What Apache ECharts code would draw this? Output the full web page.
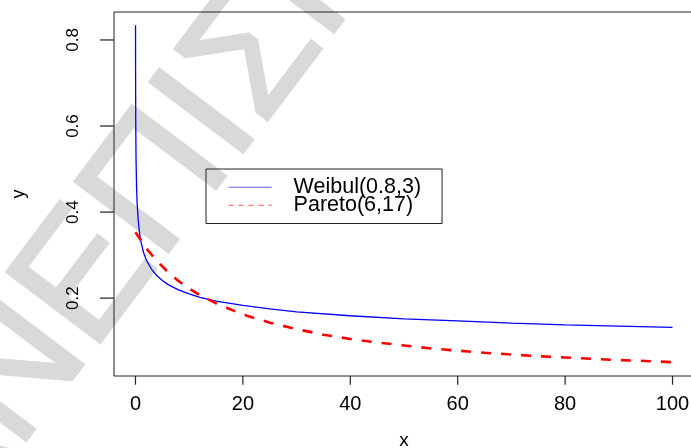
<!DOCTYPE html>
<html>
<head>
<meta charset="utf-8">
<script src="https://cdn.jsdelivr.net/npm/echarts@6/dist/echarts.min.js"></script>
<style>
  html, body { margin: 0; padding: 0; background: #ffffff; }
  #chart { width: 691px; height: 448px; }
</style>
</head>
<body>
<div id="chart"></div>
<script>
// Hazard curves: Weibull(0.8, 3) and Pareto(6, 17)
const weibullX = [0.01, 0.02, 0.05, 0.1, 0.2, 0.3, 0.5, 0.75, 1, 1.5, 2, 3, 4, 5, 6, 8, 10, 12, 15, 20, 25, 30, 40, 50, 60, 70, 80, 90, 100];
const weibullY = [0.834, 0.726, 0.605, 0.527, 0.458, 0.423, 0.382, 0.352, 0.332, 0.306, 0.289, 0.267, 0.252, 0.241, 0.232, 0.219, 0.210, 0.202, 0.193, 0.183, 0.175, 0.168, 0.159, 0.152, 0.147, 0.142, 0.138, 0.135, 0.132];

const paretoX = [0, 2, 4, 6, 8, 10, 12, 15, 20, 25, 30, 35, 40, 45, 50, 55, 60, 65, 70, 75, 80, 85, 90, 95, 100];
const paretoY = [0.353, 0.316, 0.286, 0.261, 0.240, 0.222, 0.207, 0.188, 0.162, 0.143, 0.128, 0.115, 0.105, 0.097, 0.090, 0.083, 0.078, 0.073, 0.069, 0.065, 0.062, 0.059, 0.056, 0.054, 0.051];

const xTicks = [0, 20, 40, 60, 80, 100];
const yTicks = [0.2, 0.4, 0.6, 0.8];

const seriesNames = ['Weibul(0.8,3)', 'Pareto(6,17)'];
const watermarkText = 'ΑΝΕΠΙΣΗΜΟ';

const X_MIN = -4, X_MAX = 104;
const Y_MIN = 0.019, Y_MAX = 0.865;

const pairs = (xs, ys) => xs.map((x, i) => [x, ys[i]]);

const chart = echarts.init(document.getElementById('chart'));
const font = '"Liberation Sans", Arial, sans-serif';
const ink = '#222222';

const watermark = {
  type: 'text',
  id: 'watermark',
  z: -10,
  x: -20,
  y: 565,
  rotation: 53 * Math.PI / 180,
  style: {
    text: watermarkText,
    fontFamily: font,
    fontSize: 170,
    fill: '#d9d9d9',
    stroke: '#d9d9d9',
    lineWidth: 3,
    textAlign: 'left',
    textVerticalAlign: 'bottom'
  }
};

chart.setOption({
  animation: false,
  backgroundColor: '#ffffff',
  graphic: [watermark],
  grid: {
    left: 114, top: 12, right: -3, bottom: 72,
    outerBoundsMode: 'none',
    show: true, borderColor: ink, borderWidth: 1, backgroundColor: 'transparent'
  },
  legend: {
    orient: 'vertical',
    left: 206, top: 169,
    padding: [7.25, 21, 7.25, 22],
    itemGap: -4,
    itemWidth: 43,
    itemHeight: 17,
    borderColor: ink, borderWidth: 1,
    backgroundColor: 'transparent',
    itemStyle: { opacity: 0 },
    textStyle: {
      fontFamily: font, fontSize: 21.5, color: '#000',
      padding: [0, 0, 0, 17]
    },
    data: [
      { name: seriesNames[0], itemStyle: { opacity: 0 }, lineStyle: { width: 1.2, color: '#5c5cff', opacity: 1 } },
      { name: seriesNames[1], itemStyle: { opacity: 0 }, lineStyle: { width: 1.2, color: '#ff4d4d', opacity: 1, type: [5, 5] } }
    ]
  },
  xAxis: {
    type: 'value', min: X_MIN, max: X_MAX,
    name: 'x', nameLocation: 'middle', nameGap: 55,
    nameTextStyle: { fontFamily: font, fontSize: 19, color: '#000' },
    axisLine: { show: false, onZero: false },
    splitLine: { show: false },
    axisTick: { show: false },
    axisLabel: { customValues: xTicks, margin: 18.5, fontFamily: font, fontSize: 20, color: '#000' }
  },
  yAxis: {
    type: 'value', min: Y_MIN, max: Y_MAX,
    name: 'y', nameLocation: 'middle', nameGap: 86,
    nameTextStyle: { fontFamily: font, fontSize: 18, color: '#000' },
    axisLine: { show: false, onZero: false },
    splitLine: { show: false },
    axisTick: { show: false },
    axisLabel: {
      customValues: yTicks, rotate: 90, margin: 32,
      fontFamily: font, fontSize: 17, color: '#000',
      formatter: v => v.toFixed(1)
    }
  },
  series: [
    {
      name: seriesNames[0], type: 'line', data: pairs(weibullX, weibullY),
      symbol: 'none', showSymbol: false,
      lineStyle: { color: '#0000ff', width: 1.3 },
      itemStyle: { color: '#0000ff' }
    },
    {
      name: seriesNames[1], type: 'line', data: pairs(paretoX, paretoY),
      symbol: 'none', showSymbol: false,
      lineStyle: { color: '#ff0000', width: 2.6, type: [10, 10] },
      itemStyle: { color: '#ff0000' }
    }
  ]
});

// Outward tick marks on the plot frame, positioned through the axis scales
const tickStyle = { stroke: ink, lineWidth: 1.2 };
const tickMarks = [];
xTicks.forEach((v, i) => {
  const p = chart.convertToPixel({ gridIndex: 0 }, [v, Y_MIN]);
  tickMarks.push({
    type: 'line', id: 'xtick' + i, z: 10, silent: true,
    shape: { x1: p[0], y1: p[1], x2: p[0], y2: p[1] + 8.7 },
    style: tickStyle
  });
});
yTicks.forEach((v, i) => {
  const p = chart.convertToPixel({ gridIndex: 0 }, [X_MIN, v]);
  tickMarks.push({
    type: 'line', id: 'ytick' + i, z: 10, silent: true,
    shape: { x1: p[0] - 14, y1: p[1], x2: p[0], y2: p[1] },
    style: tickStyle
  });
});
chart.setOption({ graphic: [watermark].concat(tickMarks) });
</script>
</body>
</html>
